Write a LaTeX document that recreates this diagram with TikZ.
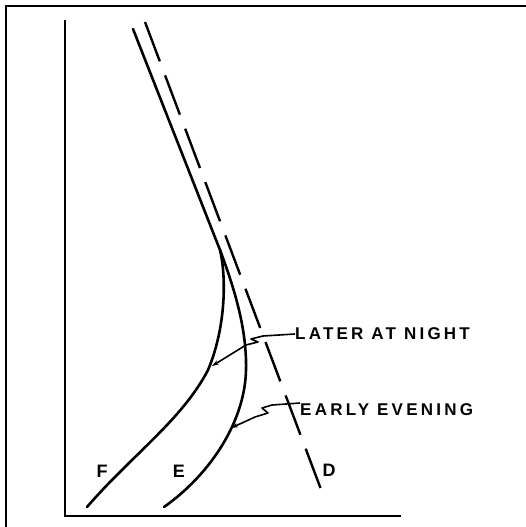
\documentclass[tikz,border=0pt]{standalone}
\usepackage{fontspec}
\setmainfont{Liberation Sans}
\usetikzlibrary{arrows.meta}
\tikzset{
  frameline/.style={line width=2pt},
  axisline/.style={line width=2.4pt},
  curve/.style={line width=2.6pt, line cap=round},
  dline/.style={line width=2.4pt, dash pattern=on 42pt off 15pt},
  leader/.style={line width=1.6pt, line join=round},
  lbl/.style={inner sep=0pt, anchor=west, font=\fontsize{17}{17}\selectfont\bfseries\addfontfeatures{LetterSpace=19}},
  letter/.style={inner sep=0pt, font=\fontsize{18}{18}\selectfont\bfseries}
}
\begin{document}
\begin{tikzpicture}[x=1pt,y=-1pt]
\useasboundingbox (0,0) rectangle (526,527);
% frame (top and left edges)
\coordinate (fl) at (6,527);
\coordinate (fc) at (6,6);
\coordinate (fr) at (526,6);
\draw[frameline] (fl) -- (fc) -- (fr);
% axes
\coordinate (ytop) at (65,20);
\coordinate (orig) at (65,516);
\coordinate (xend) at (401,516);
\draw[axisline] (ytop) -- (orig) -- (xend);
% dashed line D
\coordinate (dtop) at (145,22);
\coordinate (dbot) at (325,500);
\draw[dline] (dtop) -- (dbot);
% solid line and branches
\coordinate (stop) at (133,29);
\coordinate (split) at (220,250);
\coordinate (fend) at (87,507);
\coordinate (eend) at (164,507);
\draw[curve] (stop) -- (split)
  .. controls (235,290) and (247,330) .. (246,370)
  .. controls (245,420) and (212,473) .. (eend);
\draw[curve] (split)
  .. controls (227,280) and (225,330) .. (208,370)
  .. controls (182,420) and (132,455) .. (fend);
% labels
\node[lbl] (late) at (295,334) {LATER AT NIGHT};
\node[lbl] (early) at (300,409.5) {EARLY EVENING};
\node[letter] (F) at (102,471) {F};
\node[letter] (E) at (179,471) {E};
\node[letter] (D) at (329,470) {D};
% leaders
\coordinate (ltip) at (212,366);
\coordinate (etip) at (231,428);
\draw[leader, -{Stealth[length=7pt,width=4.5pt]}] (late.west) -- (263,336) -- (251,339) -- (258,342) -- (246,345) -- (ltip);
\draw[leader, -{Stealth[length=7pt,width=4.5pt]}] (early.west |- 0,403) -- (272,405) -- (262,408) -- (268,413) -- (255,417) -- (etip);
\end{tikzpicture}
\end{document}
